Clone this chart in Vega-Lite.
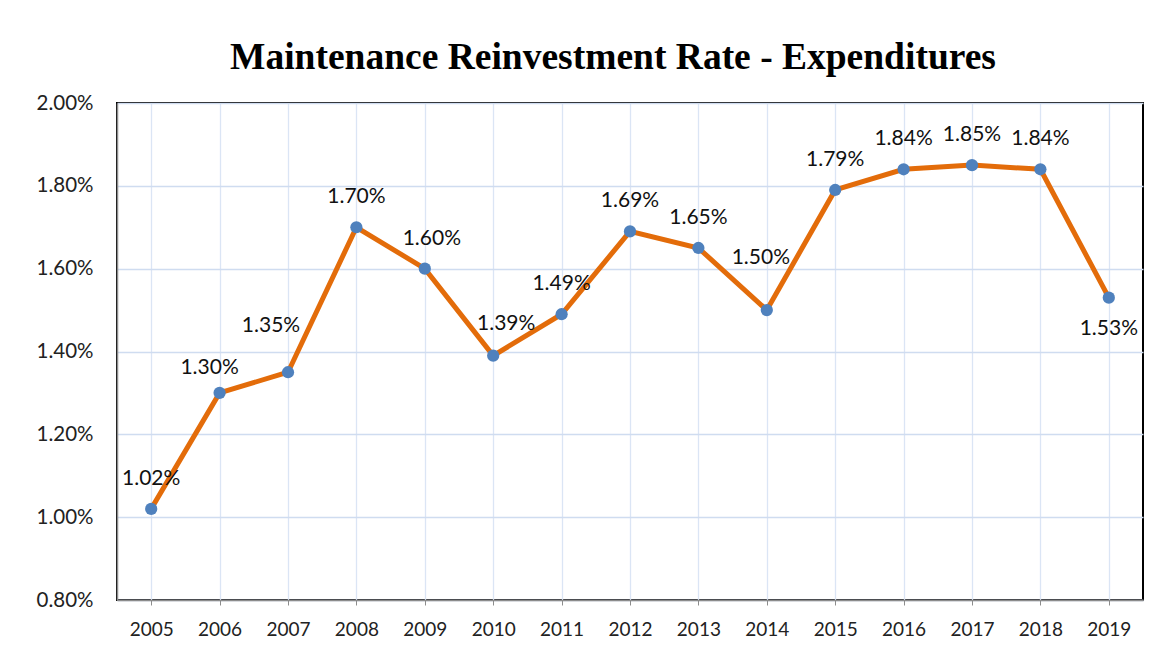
{
  "$schema": "https://vega.github.io/schema/vega-lite/v6.json",
  "width": 1026,
  "height": 497,
  "autosize": {"type": "none"},
  "padding": {"left": 117, "top": 103, "right": 26, "bottom": 54},
  "background": "white",
  "title": {
    "text": "Maintenance Reinvestment Rate - Expenditures",
    "font": "Liberation Serif",
    "fontSize": 37.5,
    "fontWeight": "bold",
    "color": "#000000",
    "anchor": "middle",
    "dx": -17,
    "dy": 47,
    "baseline": "alphabetic",
    "offset": 34
  },
  "config": {
    "view": {"stroke": "#000000", "strokeWidth": 2},
    "axis": {
      "labelFont": "Lato",
      "labelFontSize": 19,
      "labelColor": "#222222",
      "domainColor": "#8c8c8c",
      "domainWidth": 1.5,
      "tickColor": "#8c8c8c",
      "gridColor": "#cfdcf0",
      "gridWidth": 1.3,
      "title": null
    }
  },
  "data": {
    "values": [
      {"year": "2005", "rate": 0.0102},
      {"year": "2006", "rate": 0.0130},
      {"year": "2007", "rate": 0.0135},
      {"year": "2008", "rate": 0.0170},
      {"year": "2009", "rate": 0.0160},
      {"year": "2010", "rate": 0.0139},
      {"year": "2011", "rate": 0.0149},
      {"year": "2012", "rate": 0.0169},
      {"year": "2013", "rate": 0.0165},
      {"year": "2014", "rate": 0.0150},
      {"year": "2015", "rate": 0.0179},
      {"year": "2016", "rate": 0.0184},
      {"year": "2017", "rate": 0.0185},
      {"year": "2018", "rate": 0.0184},
      {"year": "2019", "rate": 0.0153}
    ]
  },
  "encoding": {
    "x": {
      "field": "year",
      "type": "ordinal",
      "scale": {"type": "point", "padding": 0.5},
      "axis": {"labelAngle": 0, "grid": true, "ticks": true, "tickSize": 5, "labelPadding": 15, "gridColor": "#dbe5f5"}
    },
    "y": {
      "field": "rate",
      "type": "quantitative",
      "scale": {"domain": [0.008, 0.02], "nice": false, "zero": false},
      "axis": {"format": ".2%", "values": [0.008, 0.01, 0.012, 0.014, 0.016, 0.018, 0.02], "ticks": false, "labelPadding": 24, "labelFontSize": 20.5, "grid": true}
    }
  },
  "layer": [
    {
      "mark": {"type": "line", "color": "#e36c0a", "strokeWidth": 5}
    },
    {
      "mark": {"type": "point", "filled": true, "color": "#4f81bd", "size": 150, "opacity": 1}
    },
    {
      "transform": [{"filter": "indexof(['2006','2007','2009','2010','2014','2019'], datum.year) < 0"}],
      "mark": {"type": "text", "font": "Lato", "fontSize": 21, "color": "#111111", "dy": -30},
      "encoding": {"text": {"field": "rate", "type": "quantitative", "format": ".2%"}}
    },
    {
      "transform": [{"filter": "datum.year == '2006'"}],
      "mark": {"type": "text", "font": "Lato", "fontSize": 21, "color": "#111111", "dx": -10, "dy": -25},
      "encoding": {"text": {"field": "rate", "type": "quantitative", "format": ".2%"}}
    },
    {
      "transform": [{"filter": "datum.year == '2007'"}],
      "mark": {"type": "text", "font": "Lato", "fontSize": 21, "color": "#111111", "dx": -17, "dy": -46},
      "encoding": {"text": {"field": "rate", "type": "quantitative", "format": ".2%"}}
    },
    {
      "transform": [{"filter": "datum.year == '2009'"}],
      "mark": {"type": "text", "font": "Lato", "fontSize": 21, "color": "#111111", "dx": 7, "dy": -30},
      "encoding": {"text": {"field": "rate", "type": "quantitative", "format": ".2%"}}
    },
    {
      "transform": [{"filter": "datum.year == '2010'"}],
      "mark": {"type": "text", "font": "Lato", "fontSize": 21, "color": "#111111", "dx": 13, "dy": -32},
      "encoding": {"text": {"field": "rate", "type": "quantitative", "format": ".2%"}}
    },
    {
      "transform": [{"filter": "datum.year == '2014'"}],
      "mark": {"type": "text", "font": "Lato", "fontSize": 21, "color": "#111111", "dx": -6, "dy": -52},
      "encoding": {"text": {"field": "rate", "type": "quantitative", "format": ".2%"}}
    },
    {
      "transform": [{"filter": "datum.year == '2019'"}],
      "mark": {"type": "text", "font": "Lato", "fontSize": 21, "color": "#111111", "dy": 31},
      "encoding": {"text": {"field": "rate", "type": "quantitative", "format": ".2%"}}
    }
  ]
}
